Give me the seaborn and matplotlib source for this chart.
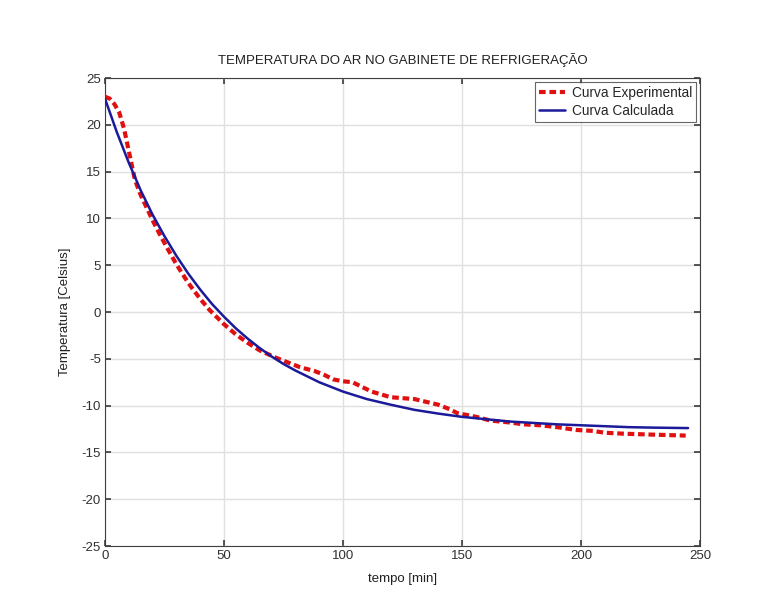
import matplotlib
matplotlib.use("Agg")
import matplotlib.pyplot as plt
import seaborn as sns
import pandas as pd

# Experimental curve
exp_t = [0, 2, 4, 6, 8, 10, 12.6, 15, 20, 23, 26, 30, 35, 40, 44, 50, 55, 60, 65, 72, 76,
         82, 88, 92, 96, 100, 104, 108, 112, 120, 125, 130, 135, 140, 145, 148, 152,
         156, 162, 170, 176, 183, 190, 198, 205, 210, 218, 230, 244]
exp_T = [23.0, 22.8, 22.2, 21.3, 19.6, 17.2, 14.1, 12.5, 9.8, 8.3, 6.9, 5.1, 3.1, 1.4, 0.2,
         -1.3, -2.4, -3.3, -4.1, -4.9, -5.3, -5.9, -6.3, -6.7, -7.2, -7.4, -7.5, -8.0,
         -8.5, -9.1, -9.2, -9.3, -9.6, -9.9, -10.4, -10.8, -11.0, -11.2, -11.6, -11.8,
         -12.0, -12.1, -12.3, -12.6, -12.7, -12.9, -13.0, -13.1, -13.2]

# Calculated curve
calc_t = [0, 5, 10, 15, 20, 25, 30, 35, 40, 45, 50, 55, 60, 65, 70, 75, 80, 90, 100,
          110, 120, 130, 140, 150, 160, 170, 180, 190, 200, 210, 220, 230, 245]
calc_T = [22.8, 19.2, 15.95, 13.0, 10.4, 8.1, 6.0, 4.1, 2.4, 0.85, -0.5, -1.75, -2.85,
          -3.85, -4.75, -5.55, -6.25, -7.5, -8.5, -9.3, -9.9, -10.45, -10.85, -11.2,
          -11.45, -11.7, -11.85, -12.0, -12.1, -12.2, -12.3, -12.35, -12.4]

x_ticks = [0, 50, 100, 150, 200, 250]
y_ticks = [-25, -20, -15, -10, -5, 0, 5, 10, 15, 20, 25]

sns.set_theme(style="whitegrid")
plt.rcParams['font.family'] = ['Liberation Sans', 'DejaVu Sans']
plt.rcParams['axes.unicode_minus'] = False

fig = plt.figure(figsize=(7.63, 5.97), dpi=100)
ax = fig.add_axes([0.1376, 0.0854, 0.7798, 0.7839])

df_exp = pd.DataFrame({"t": exp_t, "T": exp_T})
df_calc = pd.DataFrame({"t": calc_t, "T": calc_T})

sns.lineplot(data=df_exp, x="t", y="T", ax=ax, color="#e01010", lw=3.0,
             linestyle=(0, (1.6, 0.9)), label="Curva Experimental", zorder=3)
sns.lineplot(data=df_calc, x="t", y="T", ax=ax, color="#1a1a9a", lw=1.8,
             label="Curva Calculada", zorder=4)

ax.set_xlim(0, 250)
ax.set_ylim(-25, 25)
ax.set_xticks(x_ticks)
ax.set_yticks(y_ticks)
ax.tick_params(axis="both", labelsize=9.5, direction="in", length=4, color="#404040",
               pad=3, labelcolor="#303030", top=True, right=True,
               bottom=True, left=True)
ax.grid(True, color="#e0e0e0", lw=1.0)
for s in ax.spines.values():
    s.set_color("#404040")
    s.set_linewidth(0.8)
ax.set_facecolor("white")

ax.set_title("TEMPERATURA DO AR NO GABINETE DE REFRIGERAÇÃO", fontsize=9.5, pad=10, color="#202020")
ax.set_xlabel("tempo [min]", fontsize=9.5, labelpad=8, color="#202020")
ax.set_ylabel("Temperatura [Celsius]", fontsize=9.5, labelpad=7.5, color="#202020")

leg = ax.legend(loc="upper right", fontsize=9.8, frameon=True, fancybox=False,
                handlelength=1.9, borderaxespad=0.3, borderpad=0.3, labelspacing=0.25,
                handletextpad=0.5)
leg.get_frame().set_edgecolor("#404040")
leg.get_frame().set_linewidth(0.8)

fig.savefig("out.png", dpi=100, facecolor="white")
